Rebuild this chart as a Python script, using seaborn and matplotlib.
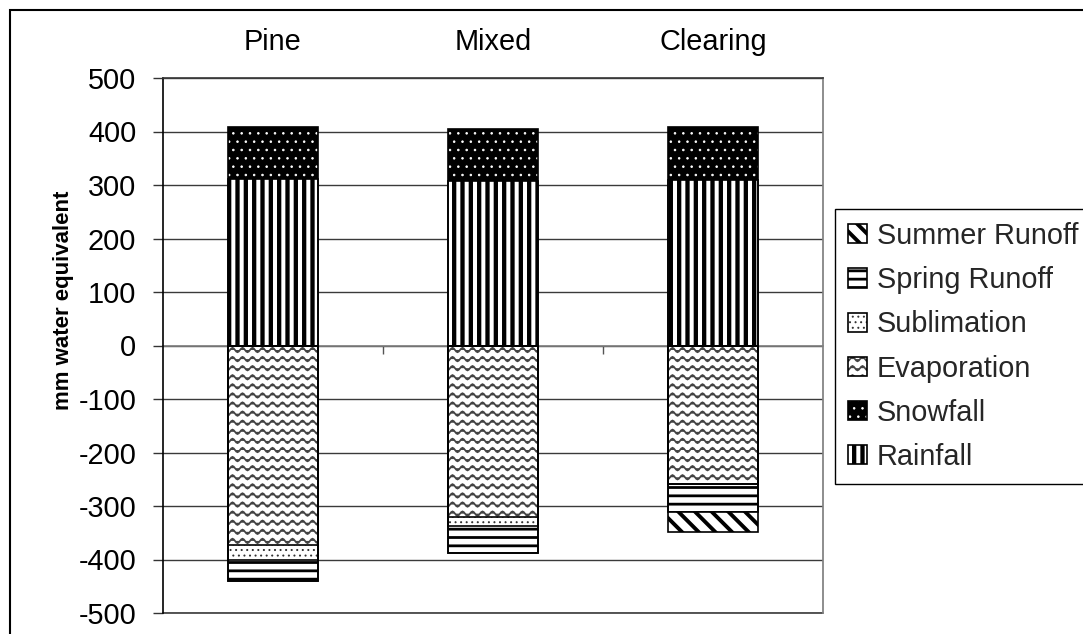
import warnings
import numpy as np
import matplotlib
matplotlib.use("Agg")
import matplotlib as mpl
import matplotlib.pyplot as plt
import matplotlib.hatch as mhatch
from matplotlib.path import Path
from matplotlib.patches import Patch, Rectangle
import seaborn as sns

# ---------------- data ----------------
categories = ["Pine", "Mixed", "Clearing"]
rainfall = [312, 308, 309]
snowfall = [97, 97, 100]
evaporation = [-373, -321, -258]
sublimation = [-28, -17, 0]
spring_runoff = [-40, -50, -54]
summer_runoff = [0, 0, -37]
legend_order = ["Summer Runoff", "Spring Runoff", "Sublimation",
                "Evaporation", "Snowfall", "Rainfall"]
yticks = list(range(-500, 501, 100))

# ---------------- custom wavy hatch ----------------
class WaveHatch(mhatch.HatchPatternBase):
    def __init__(self, hatch, density):
        n = hatch.count('~')
        self.num_rows = 11 * n
        self.num_waves = 10
        self.pts = 8
        self.npts = self.num_waves * self.pts + 1
        self.num_vertices = self.num_rows * self.npts

    def set_vertices_and_codes(self, vertices, codes):
        x = np.linspace(0, 1, self.npts)
        k = 0
        for r in range(self.num_rows):
            y0 = (r + 0.5) / self.num_rows
            vertices[k:k + self.npts, 0] = x
            vertices[k:k + self.npts, 1] = y0 + 0.022 * np.sin(2 * np.pi * self.num_waves * x)
            codes[k] = Path.MOVETO
            codes[k + 1:k + self.npts] = Path.LINETO
            k += self.npts

mhatch._hatch_types.append(WaveHatch)
_orig_validate = mhatch._validate_hatch_pattern
def _validate(h):
    if h is not None:
        h = h.replace('~', '') or None
    _orig_validate(h)
mhatch._validate_hatch_pattern = _validate

# ---------------- styles ----------------
styles = {
    "Rainfall":      dict(face="white", hatch="||",   hc="black",   hlw=3.1),
    "Snowfall":      dict(face="black", hatch="..",   hc="white",   hlw=0.6),
    "Evaporation":   dict(face="white", hatch="~",    hc="#444444", hlw=1.25),
    "Sublimation":   dict(face="white", hatch="...",  hc="#333333", hlw=0.7),
    "Spring Runoff": dict(face="white", hatch="--",   hc="black",   hlw=2.0),
    "Summer Runoff": dict(face="white", hatch="\\\\", hc="black",   hlw=2.8),
}
hatch_lw = {s["hatch"]: s["hlw"] for s in styles.values()}

sns.set_theme(style="white")
plt.rcParams["font.family"] = ["Liberation Sans", "DejaVu Sans"]

FS = 20.8
fig = plt.figure(figsize=(10.83, 6.34), dpi=100)
ax = fig.add_axes([163 / 1083, 1 - 613 / 634, 660 / 1083, 535 / 634])

series = {
    "Rainfall": rainfall, "Snowfall": snowfall,
    "Evaporation": evaporation, "Sublimation": sublimation,
    "Spring Runoff": spring_runoff, "Summer Runoff": summer_runoff,
}
pos_order = ["Rainfall", "Snowfall"]
neg_order = ["Evaporation", "Sublimation", "Spring Runoff", "Summer Runoff"]

def cumulative(order):
    out, acc = [], np.zeros(len(categories))
    for name in order:
        acc = acc + np.array(series[name], dtype=float)
        out.append((name, acc.copy()))
    return out

layers = cumulative(pos_order)[::-1] + cumulative(neg_order)[::-1]
BW = 0.405

for name, heights in layers:
    st = styles[name]
    sns.barplot(x=categories, y=heights, ax=ax, width=BW, errorbar=None,
                color="white", zorder=2)
    for r in ax.containers[-1]:
        r.set_facecolor(st["face"])
        r.set_edgecolor(st["hc"])
        r.set_linewidth(0)
        r.set_hatch(st["hatch"])
        r.set_zorder(2)

for name, heights in layers:
    sns.barplot(x=categories, y=heights, ax=ax, width=BW, errorbar=None,
                color="white", zorder=3)
    for r in ax.containers[-1]:
        r.set_facecolor("none")
        r.set_edgecolor("black")
        r.set_linewidth(1.2)
        r.set_zorder(3)

# ---------------- axes ----------------
ax.set_ylim(-500, 500)
ax.set_xlim(-0.5, 2.5)
ax.set_yticks(yticks)
ax.set_yticklabels([str(v) for v in yticks])
ax.set_xlabel("")
ax.set_ylabel("mm water equivalent", fontsize=16, fontweight="bold", color="black")
ax.yaxis.set_label_coords(-0.135, 0.585)

ax.grid(axis="y", color="#3a3a3a", linewidth=1.0)
ax.grid(axis="x", visible=False)
ax.set_axisbelow(True)

ax.tick_params(axis="y", which="major", left=True, length=7.2, width=1.0,
               color="#333333", direction="out", pad=12, labelsize=FS,
               labelcolor="black")
ax.tick_params(axis="x", which="major", top=False, bottom=False,
               labeltop=True, labelbottom=False, labelsize=FS, pad=9.5,
               labelcolor="black")
ax.set_xticks([0.5, 1.5], minor=True)
ax.tick_params(axis="x", which="minor", bottom=True, top=False, length=6,
               width=1.0, color="#555555", direction="out")

for side in ["left", "right", "top", "bottom"]:
    ax.spines[side].set_visible(True)
ax.spines["left"].set_color("black")
ax.spines["left"].set_linewidth(1.2)
ax.spines["right"].set_color("#808080")
ax.spines["top"].set_color("#3a3a3a")
ax.spines["bottom"].set_position(("data", 0))
ax.spines["bottom"].set_color("#808080")
ax.spines["bottom"].set_linewidth(1.2)
ax.spines["bottom"].set_zorder(1.5)
ax.axhline(-500, color="#3a3a3a", linewidth=1.2, zorder=1, clip_on=False)

# ---------------- legend ----------------
handles = []
for name in legend_order:
    st = styles[name]
    p1 = Patch(facecolor=st["face"], edgecolor=st["hc"], hatch=st["hatch"], linewidth=0)
    p2 = Patch(facecolor="none", edgecolor="black", linewidth=1.2)
    handles.append((p1, p2))
leg = fig.legend(handles, legend_order, loc="upper left",
                 bbox_to_anchor=(835 / 1083, 1 - 209 / 634, 0.3, 0),
                 mode="expand", borderaxespad=0, fontsize=FS, frameon=True,
                 fancybox=False, framealpha=1, edgecolor="black",
                 handlelength=0.65, handleheight=0.65, handletextpad=0.35,
                 labelspacing=0.56, borderpad=0.45)
leg.get_frame().set_linewidth(1.0)

# figure frame
fig.add_artist(Rectangle((10 / 1083, -0.05), 1.2, 1 - 10 / 634 + 0.05,
                         transform=fig.transFigure, fill=False,
                         edgecolor="black", linewidth=1.5, zorder=10))

# ---------------- per-hatch line widths ----------------
def apply_hlw(p, lw):
    if hasattr(p, "set_hatch_linewidth"):
        try:
            p.set_hatch_linewidth(lw)
        except Exception:
            pass
    orig = p.draw
    def draw(renderer, _orig=orig, _lw=lw):
        with mpl.rc_context({"hatch.linewidth": _lw}):
            _orig(renderer)
    p.draw = draw

fig.canvas.draw()
for p in fig.findobj(Patch):
    h = p.get_hatch()
    if h in hatch_lw:
        apply_hlw(p, hatch_lw[h])

fig.savefig("out.png", dpi=100)
